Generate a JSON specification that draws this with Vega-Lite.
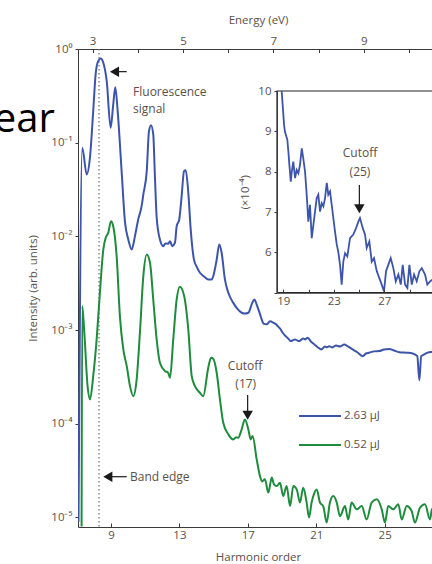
{
  "$schema": "https://vega.github.io/schema/vega-lite/v6.json",
  "width": 354,
  "height": 478,
  "autosize": {"type": "none"},
  "padding": {"left": 78, "top": 49, "right": 0, "bottom": 37},
  "background": "white",
  "config": {
    "view": {"stroke": null},
    "font": "Open Sans",
    "axis": {"grid": false, "domainColor": "#3a3a3a", "tickColor": "#3a3a3a", "labelColor": "#5a5048", "titleColor": "#5a5048", "labelFontSize": 11.5, "titleFontSize": 11.5, "titleFontWeight": "normal", "labelFont": "Open Sans", "titleFont": "Open Sans"}
  },
  "datasets": {
    "spectra": [
      {"series": "2.63 μJ", "harmonic": 7.10, "intensity": 9e-6},
      {"series": "2.63 μJ", "harmonic": 7.32, "intensity": 0.0883},
      {"series": "2.63 μJ", "harmonic": 7.58, "intensity": 0.0458},
      {"series": "2.63 μJ", "harmonic": 7.77, "intensity": 0.0695},
      {"series": "2.63 μJ", "harmonic": 7.96, "intensity": 0.217},
      {"series": "2.63 μJ", "harmonic": 8.10, "intensity": 0.535},
      {"series": "2.63 μJ", "harmonic": 8.25, "intensity": 0.741},
      {"series": "2.63 μJ", "harmonic": 8.40, "intensity": 0.792},
      {"series": "2.63 μJ", "harmonic": 8.55, "intensity": 0.713},
      {"series": "2.63 μJ", "harmonic": 8.75, "intensity": 0.453},
      {"series": "2.63 μJ", "harmonic": 8.98, "intensity": 0.144},
      {"series": "2.63 μJ", "harmonic": 9.13, "intensity": 0.256},
      {"series": "2.63 μJ", "harmonic": 9.25, "intensity": 0.391},
      {"series": "2.63 μJ", "harmonic": 9.39, "intensity": 0.217},
      {"series": "2.63 μJ", "harmonic": 9.62, "intensity": 0.0497},
      {"series": "2.63 μJ", "harmonic": 9.82, "intensity": 0.01407},
      {"series": "2.63 μJ", "harmonic": 10.01, "intensity": 0.00927},
      {"series": "2.63 μJ", "harmonic": 10.21, "intensity": 0.00724},
      {"series": "2.63 μJ", "harmonic": 10.40, "intensity": 0.01005},
      {"series": "2.63 μJ", "harmonic": 10.59, "intensity": 0.01514},
      {"series": "2.63 μJ", "harmonic": 10.79, "intensity": 0.0210},
      {"series": "2.63 μJ", "harmonic": 10.89, "intensity": 0.0280},
      {"series": "2.63 μJ", "harmonic": 11.09, "intensity": 0.0497},
      {"series": "2.63 μJ", "harmonic": 11.22, "intensity": 0.1327},
      {"series": "2.63 μJ", "harmonic": 11.34, "intensity": 0.1538},
      {"series": "2.63 μJ", "harmonic": 11.47, "intensity": 0.1225},
      {"series": "2.63 μJ", "harmonic": 11.57, "intensity": 0.0425},
      {"series": "2.63 μJ", "harmonic": 11.67, "intensity": 0.0159},
      {"series": "2.63 μJ", "harmonic": 11.86, "intensity": 0.00927},
      {"series": "2.63 μJ", "harmonic": 12.06, "intensity": 0.00786},
      {"series": "2.63 μJ", "harmonic": 12.18, "intensity": 0.0084},
      {"series": "2.63 μJ", "harmonic": 12.35, "intensity": 0.00834},
      {"series": "2.63 μJ", "harmonic": 12.45, "intensity": 0.00889},
      {"series": "2.63 μJ", "harmonic": 12.58, "intensity": 0.00786},
      {"series": "2.63 μJ", "harmonic": 12.74, "intensity": 0.00855},
      {"series": "2.63 μJ", "harmonic": 12.84, "intensity": 0.01285},
      {"series": "2.63 μJ", "harmonic": 12.99, "intensity": 0.01514},
      {"series": "2.63 μJ", "harmonic": 13.13, "intensity": 0.0269},
      {"series": "2.63 μJ", "harmonic": 13.27, "intensity": 0.0497},
      {"series": "2.63 μJ", "harmonic": 13.37, "intensity": 0.0509},
      {"series": "2.63 μJ", "harmonic": 13.52, "intensity": 0.0292},
      {"series": "2.63 μJ", "harmonic": 13.66, "intensity": 0.01186},
      {"series": "2.63 μJ", "harmonic": 13.85, "intensity": 0.00566},
      {"series": "2.63 μJ", "harmonic": 14.03, "intensity": 0.00466},
      {"series": "2.63 μJ", "harmonic": 14.20, "intensity": 0.00409},
      {"series": "2.63 μJ", "harmonic": 14.44, "intensity": 0.00373},
      {"series": "2.63 μJ", "harmonic": 14.69, "intensity": 0.00347},
      {"series": "2.63 μJ", "harmonic": 14.89, "intensity": 0.00347},
      {"series": "2.63 μJ", "harmonic": 15.02, "intensity": 0.00402},
      {"series": "2.63 μJ", "harmonic": 15.18, "intensity": 0.00566},
      {"series": "2.63 μJ", "harmonic": 15.33, "intensity": 0.0082},
      {"series": "2.63 μJ", "harmonic": 15.47, "intensity": 0.00668},
      {"series": "2.63 μJ", "harmonic": 15.66, "intensity": 0.00347},
      {"series": "2.63 μJ", "harmonic": 15.86, "intensity": 0.0025},
      {"series": "2.63 μJ", "harmonic": 16.15, "intensity": 0.00195},
      {"series": "2.63 μJ", "harmonic": 16.37, "intensity": 0.0017},
      {"series": "2.63 μJ", "harmonic": 16.64, "intensity": 0.00153},
      {"series": "2.63 μJ", "harmonic": 16.83, "intensity": 0.0015},
      {"series": "2.63 μJ", "harmonic": 17.03, "intensity": 0.00153},
      {"series": "2.63 μJ", "harmonic": 17.26, "intensity": 0.00195},
      {"series": "2.63 μJ", "harmonic": 17.38, "intensity": 0.00212},
      {"series": "2.63 μJ", "harmonic": 17.55, "intensity": 0.0018},
      {"series": "2.63 μJ", "harmonic": 17.75, "intensity": 0.00141},
      {"series": "2.63 μJ", "harmonic": 17.92, "intensity": 0.00117},
      {"series": "2.63 μJ", "harmonic": 18.10, "intensity": 0.00115},
      {"series": "2.63 μJ", "harmonic": 18.30, "intensity": 0.00124},
      {"series": "2.63 μJ", "harmonic": 18.49, "intensity": 0.0012},
      {"series": "2.63 μJ", "harmonic": 18.65, "intensity": 0.00115},
      {"series": "2.63 μJ", "harmonic": 18.75, "intensity": 0.0011},
      {"series": "2.63 μJ", "harmonic": 18.88, "intensity": 0.00104},
      {"series": "2.63 μJ", "harmonic": 19.04, "intensity": 0.000935},
      {"series": "2.63 μJ", "harmonic": 19.23, "intensity": 0.000855},
      {"series": "2.63 μJ", "harmonic": 19.38, "intensity": 0.000805},
      {"series": "2.63 μJ", "harmonic": 19.52, "intensity": 0.000762},
      {"series": "2.63 μJ", "harmonic": 19.64, "intensity": 0.00078},
      {"series": "2.63 μJ", "harmonic": 19.76, "intensity": 0.000794},
      {"series": "2.63 μJ", "harmonic": 19.88, "intensity": 0.000775},
      {"series": "2.63 μJ", "harmonic": 20.01, "intensity": 0.000762},
      {"series": "2.63 μJ", "harmonic": 20.23, "intensity": 0.000813},
      {"series": "2.63 μJ", "harmonic": 20.36, "intensity": 0.000795},
      {"series": "2.63 μJ", "harmonic": 20.50, "intensity": 0.000828},
      {"series": "2.63 μJ", "harmonic": 20.69, "intensity": 0.000755},
      {"series": "2.63 μJ", "harmonic": 20.89, "intensity": 0.000702},
      {"series": "2.63 μJ", "harmonic": 21.10, "intensity": 0.000652},
      {"series": "2.63 μJ", "harmonic": 21.30, "intensity": 0.000621},
      {"series": "2.63 μJ", "harmonic": 21.51, "intensity": 0.000668},
      {"series": "2.63 μJ", "harmonic": 21.63, "intensity": 0.000655},
      {"series": "2.63 μJ", "harmonic": 21.76, "intensity": 0.000673},
      {"series": "2.63 μJ", "harmonic": 21.92, "intensity": 0.000652},
      {"series": "2.63 μJ", "harmonic": 22.16, "intensity": 0.000685},
      {"series": "2.63 μJ", "harmonic": 22.39, "intensity": 0.000668},
      {"series": "2.63 μJ", "harmonic": 22.64, "intensity": 0.000702},
      {"series": "2.63 μJ", "harmonic": 22.86, "intensity": 0.000668},
      {"series": "2.63 μJ", "harmonic": 23.13, "intensity": 0.000621},
      {"series": "2.63 μJ", "harmonic": 23.38, "intensity": 0.000583},
      {"series": "2.63 μJ", "harmonic": 23.72, "intensity": 0.000526},
      {"series": "2.63 μJ", "harmonic": 23.91, "intensity": 0.000562},
      {"series": "2.63 μJ", "harmonic": 24.10, "intensity": 0.000573},
      {"series": "2.63 μJ", "harmonic": 24.38, "intensity": 0.000592},
      {"series": "2.63 μJ", "harmonic": 24.69, "intensity": 0.000596},
      {"series": "2.63 μJ", "harmonic": 24.96, "intensity": 0.000621},
      {"series": "2.63 μJ", "harmonic": 25.27, "intensity": 0.000628},
      {"series": "2.63 μJ", "harmonic": 25.55, "intensity": 0.000605},
      {"series": "2.63 μJ", "harmonic": 25.86, "intensity": 0.000581},
      {"series": "2.63 μJ", "harmonic": 26.29, "intensity": 0.000573},
      {"series": "2.63 μJ", "harmonic": 26.64, "intensity": 0.000562},
      {"series": "2.63 μJ", "harmonic": 26.91, "intensity": 0.000526},
      {"series": "2.63 μJ", "harmonic": 27.03, "intensity": 0.00029},
      {"series": "2.63 μJ", "harmonic": 27.14, "intensity": 0.000526},
      {"series": "2.63 μJ", "harmonic": 27.32, "intensity": 0.000549},
      {"series": "2.63 μJ", "harmonic": 27.54, "intensity": 0.000577},
      {"series": "2.63 μJ", "harmonic": 27.77, "intensity": 0.000583},
      {"series": "2.63 μJ", "harmonic": 28.10, "intensity": 0.000592},
      {"series": "0.52 μJ", "harmonic": 7.28, "intensity": 8e-6},
      {"series": "0.52 μJ", "harmonic": 7.32, "intensity": 0.0018},
      {"series": "0.52 μJ", "harmonic": 7.44, "intensity": 0.000935},
      {"series": "0.52 μJ", "harmonic": 7.63, "intensity": 0.000252},
      {"series": "0.52 μJ", "harmonic": 7.77, "intensity": 0.000182},
      {"series": "0.52 μJ", "harmonic": 7.96, "intensity": 0.000322},
      {"series": "0.52 μJ", "harmonic": 8.16, "intensity": 0.000794},
      {"series": "0.52 μJ", "harmonic": 8.35, "intensity": 0.0025},
      {"series": "0.52 μJ", "harmonic": 8.55, "intensity": 0.00724},
      {"series": "0.52 μJ", "harmonic": 8.69, "intensity": 0.00966},
      {"series": "0.52 μJ", "harmonic": 8.84, "intensity": 0.0109},
      {"series": "0.52 μJ", "harmonic": 9.00, "intensity": 0.01452},
      {"series": "0.52 μJ", "harmonic": 9.13, "intensity": 0.01285},
      {"series": "0.52 μJ", "harmonic": 9.33, "intensity": 0.00615},
      {"series": "0.52 μJ", "harmonic": 9.52, "intensity": 0.00141},
      {"series": "0.52 μJ", "harmonic": 9.72, "intensity": 0.000621},
      {"series": "0.52 μJ", "harmonic": 9.92, "intensity": 0.000412},
      {"series": "0.52 μJ", "harmonic": 10.11, "intensity": 0.000252},
      {"series": "0.52 μJ", "harmonic": 10.30, "intensity": 0.000197},
      {"series": "0.52 μJ", "harmonic": 10.50, "intensity": 0.000297},
      {"series": "0.52 μJ", "harmonic": 10.69, "intensity": 0.000935},
      {"series": "0.52 μJ", "harmonic": 10.89, "intensity": 0.00376},
      {"series": "0.52 μJ", "harmonic": 11.09, "intensity": 0.00641},
      {"series": "0.52 μJ", "harmonic": 11.28, "intensity": 0.00523},
      {"series": "0.52 μJ", "harmonic": 11.47, "intensity": 0.00212},
      {"series": "0.52 μJ", "harmonic": 11.67, "intensity": 0.000794},
      {"series": "0.52 μJ", "harmonic": 11.86, "intensity": 0.000448},
      {"series": "0.52 μJ", "harmonic": 12.16, "intensity": 0.000364},
      {"series": "0.52 μJ", "harmonic": 12.33, "intensity": 0.000353},
      {"series": "0.52 μJ", "harmonic": 12.45, "intensity": 0.00031},
      {"series": "0.52 μJ", "harmonic": 12.64, "intensity": 0.000794},
      {"series": "0.52 μJ", "harmonic": 12.84, "intensity": 0.00212},
      {"series": "0.52 μJ", "harmonic": 13.03, "intensity": 0.0029},
      {"series": "0.52 μJ", "harmonic": 13.28, "intensity": 0.0023},
      {"series": "0.52 μJ", "harmonic": 13.52, "intensity": 0.00101},
      {"series": "0.52 μJ", "harmonic": 13.72, "intensity": 0.000322},
      {"series": "0.52 μJ", "harmonic": 13.91, "intensity": 0.000252},
      {"series": "0.52 μJ", "harmonic": 14.20, "intensity": 0.000214},
      {"series": "0.52 μJ", "harmonic": 14.39, "intensity": 0.000197},
      {"series": "0.52 μJ", "harmonic": 14.69, "intensity": 0.000399},
      {"series": "0.52 μJ", "harmonic": 14.85, "intensity": 0.000506},
      {"series": "0.52 μJ", "harmonic": 14.98, "intensity": 0.000494},
      {"series": "0.52 μJ", "harmonic": 15.18, "intensity": 0.00035},
      {"series": "0.52 μJ", "harmonic": 15.37, "intensity": 0.000182},
      {"series": "0.52 μJ", "harmonic": 15.56, "intensity": 0.000103},
      {"series": "0.52 μJ", "harmonic": 15.86, "intensity": 7.7e-5},
      {"series": "0.52 μJ", "harmonic": 16.15, "intensity": 6.8e-5},
      {"series": "0.52 μJ", "harmonic": 16.31, "intensity": 7.14e-5},
      {"series": "0.52 μJ", "harmonic": 16.44, "intensity": 7.1e-5},
      {"series": "0.52 μJ", "harmonic": 16.64, "intensity": 8.7e-5},
      {"series": "0.52 μJ", "harmonic": 16.83, "intensity": 0.000111},
      {"series": "0.52 μJ", "harmonic": 17.03, "intensity": 8.7e-5},
      {"series": "0.52 μJ", "harmonic": 17.17, "intensity": 6.8e-5},
      {"series": "0.52 μJ", "harmonic": 17.28, "intensity": 7.4e-5},
      {"series": "0.52 μJ", "harmonic": 17.52, "intensity": 4.16e-5},
      {"series": "0.52 μJ", "harmonic": 17.71, "intensity": 2.76e-5},
      {"series": "0.52 μJ", "harmonic": 17.83, "intensity": 2.42e-5},
      {"series": "0.52 μJ", "harmonic": 18.00, "intensity": 2.55e-5},
      {"series": "0.52 μJ", "harmonic": 18.20, "intensity": 1.84e-5},
      {"series": "0.52 μJ", "harmonic": 18.40, "intensity": 2.66e-5},
      {"series": "0.52 μJ", "harmonic": 18.53, "intensity": 2.25e-5},
      {"series": "0.52 μJ", "harmonic": 18.69, "intensity": 2.16e-5},
      {"series": "0.52 μJ", "harmonic": 18.88, "intensity": 2.34e-5},
      {"series": "0.52 μJ", "harmonic": 19.07, "intensity": 1.69e-5},
      {"series": "0.52 μJ", "harmonic": 19.27, "intensity": 2.16e-5},
      {"series": "0.52 μJ", "harmonic": 19.47, "intensity": 1.32e-5},
      {"series": "0.52 μJ", "harmonic": 19.66, "intensity": 2.16e-5},
      {"series": "0.52 μJ", "harmonic": 19.86, "intensity": 1.99e-5},
      {"series": "0.52 μJ", "harmonic": 20.05, "intensity": 1.44e-5},
      {"series": "0.52 μJ", "harmonic": 20.24, "intensity": 2.07e-5},
      {"series": "0.52 μJ", "harmonic": 20.44, "intensity": 1.44e-5},
      {"series": "0.52 μJ", "harmonic": 20.58, "intensity": 1.0e-5},
      {"series": "0.52 μJ", "harmonic": 20.73, "intensity": 1.44e-5},
      {"series": "0.52 μJ", "harmonic": 20.83, "intensity": 1.69e-5},
      {"series": "0.52 μJ", "harmonic": 21.03, "intensity": 1.99e-5},
      {"series": "0.52 μJ", "harmonic": 21.22, "intensity": 1.44e-5},
      {"series": "0.52 μJ", "harmonic": 21.41, "intensity": 1.32e-5},
      {"series": "0.52 μJ", "harmonic": 21.61, "intensity": 8.8e-6},
      {"series": "0.52 μJ", "harmonic": 21.80, "intensity": 1.44e-5},
      {"series": "0.52 μJ", "harmonic": 22.00, "intensity": 1.69e-5},
      {"series": "0.52 μJ", "harmonic": 22.20, "intensity": 1.44e-5},
      {"series": "0.52 μJ", "harmonic": 22.39, "intensity": 1.03e-5},
      {"series": "0.52 μJ", "harmonic": 22.68, "intensity": 1.32e-5},
      {"series": "0.52 μJ", "harmonic": 22.87, "intensity": 9.5e-6},
      {"series": "0.52 μJ", "harmonic": 23.07, "intensity": 1.44e-5},
      {"series": "0.52 μJ", "harmonic": 23.37, "intensity": 1.22e-5},
      {"series": "0.52 μJ", "harmonic": 23.66, "intensity": 1.32e-5},
      {"series": "0.52 μJ", "harmonic": 23.95, "intensity": 9.5e-6},
      {"series": "0.52 μJ", "harmonic": 24.24, "intensity": 1.44e-5},
      {"series": "0.52 μJ", "harmonic": 24.54, "intensity": 1.56e-5},
      {"series": "0.52 μJ", "harmonic": 24.83, "intensity": 1.22e-5},
      {"series": "0.52 μJ", "harmonic": 25.02, "intensity": 8.8e-6},
      {"series": "0.52 μJ", "harmonic": 25.21, "intensity": 1.32e-5},
      {"series": "0.52 μJ", "harmonic": 25.51, "intensity": 1.22e-5},
      {"series": "0.52 μJ", "harmonic": 25.80, "intensity": 1.38e-5},
      {"series": "0.52 μJ", "harmonic": 26.00, "intensity": 9.5e-6},
      {"series": "0.52 μJ", "harmonic": 26.29, "intensity": 1.32e-5},
      {"series": "0.52 μJ", "harmonic": 26.58, "intensity": 1.17e-5},
      {"series": "0.52 μJ", "harmonic": 26.77, "intensity": 8.8e-6},
      {"series": "0.52 μJ", "harmonic": 27.07, "intensity": 1.27e-5},
      {"series": "0.52 μJ", "harmonic": 27.36, "intensity": 1.38e-5},
      {"series": "0.52 μJ", "harmonic": 27.65, "intensity": 9.5e-6},
      {"series": "0.52 μJ", "harmonic": 27.77, "intensity": 1.22e-5},
      {"series": "0.52 μJ", "harmonic": 28.10, "intensity": 1.38e-5}
    ],
    "inset": [
      {"harmonic": 18.87, "value": 10.0},
      {"harmonic": 18.95, "value": 9.65},
      {"harmonic": 19.06, "value": 9.16},
      {"harmonic": 19.13, "value": 8.99},
      {"harmonic": 19.32, "value": 8.79},
      {"harmonic": 19.40, "value": 8.50},
      {"harmonic": 19.48, "value": 8.17},
      {"harmonic": 19.59, "value": 7.75},
      {"harmonic": 19.67, "value": 8.00},
      {"harmonic": 19.79, "value": 8.25},
      {"harmonic": 19.93, "value": 7.84},
      {"harmonic": 20.06, "value": 8.04},
      {"harmonic": 20.19, "value": 7.96},
      {"harmonic": 20.32, "value": 8.17},
      {"harmonic": 20.46, "value": 8.58},
      {"harmonic": 20.58, "value": 8.33},
      {"harmonic": 20.72, "value": 8.00},
      {"harmonic": 20.85, "value": 7.43},
      {"harmonic": 20.98, "value": 6.76},
      {"harmonic": 21.11, "value": 7.18},
      {"harmonic": 21.25, "value": 6.35},
      {"harmonic": 21.38, "value": 6.68},
      {"harmonic": 21.51, "value": 7.01},
      {"harmonic": 21.64, "value": 7.34},
      {"harmonic": 21.77, "value": 7.43},
      {"harmonic": 21.91, "value": 7.01},
      {"harmonic": 22.04, "value": 7.22},
      {"harmonic": 22.17, "value": 7.14},
      {"harmonic": 22.30, "value": 7.34},
      {"harmonic": 22.44, "value": 7.72},
      {"harmonic": 22.56, "value": 7.43},
      {"harmonic": 22.70, "value": 7.51},
      {"harmonic": 22.83, "value": 7.18},
      {"harmonic": 22.96, "value": 6.85},
      {"harmonic": 23.09, "value": 6.52},
      {"harmonic": 23.23, "value": 6.19},
      {"harmonic": 23.35, "value": 6.02},
      {"harmonic": 23.49, "value": 5.69},
      {"harmonic": 23.62, "value": 5.20},
      {"harmonic": 23.75, "value": 5.77},
      {"harmonic": 23.89, "value": 5.98},
      {"harmonic": 24.07, "value": 5.90},
      {"harmonic": 24.28, "value": 6.35},
      {"harmonic": 24.54, "value": 6.44},
      {"harmonic": 24.76, "value": 6.60},
      {"harmonic": 24.94, "value": 6.76},
      {"harmonic": 25.07, "value": 6.85},
      {"harmonic": 25.29, "value": 6.60},
      {"harmonic": 25.47, "value": 6.44},
      {"harmonic": 25.60, "value": 6.11},
      {"harmonic": 25.81, "value": 6.27},
      {"harmonic": 26.00, "value": 5.77},
      {"harmonic": 26.18, "value": 5.86},
      {"harmonic": 26.40, "value": 5.53},
      {"harmonic": 26.60, "value": 5.36},
      {"harmonic": 26.79, "value": 5.20},
      {"harmonic": 26.97, "value": 5.03},
      {"harmonic": 27.13, "value": 5.53},
      {"harmonic": 27.31, "value": 5.69},
      {"harmonic": 27.50, "value": 5.86},
      {"harmonic": 27.71, "value": 5.61},
      {"harmonic": 27.90, "value": 5.28},
      {"harmonic": 28.11, "value": 5.45},
      {"harmonic": 28.30, "value": 5.20},
      {"harmonic": 28.45, "value": 5.69},
      {"harmonic": 28.64, "value": 5.20},
      {"harmonic": 28.82, "value": 5.12},
      {"harmonic": 28.98, "value": 5.69},
      {"harmonic": 29.17, "value": 5.20},
      {"harmonic": 29.35, "value": 5.45},
      {"harmonic": 29.56, "value": 5.28},
      {"harmonic": 29.77, "value": 5.53},
      {"harmonic": 29.96, "value": 5.61},
      {"harmonic": 30.22, "value": 5.45},
      {"harmonic": 30.40, "value": 5.20},
      {"harmonic": 30.62, "value": 5.28},
      {"harmonic": 30.77, "value": 5.32}
    ]
  },
  "layer": [
    {
      "layer": [
        {
          "data": {"values": [{"label": "ear", "harmonic": 5.72, "intensity": 0.13}]},
          "mark": {"type": "text", "align": "right", "baseline": "alphabetic", "fontSize": 40, "font": "Open Sans", "color": "#000000"},
          "encoding": {
            "x": {"field": "harmonic", "type": "quantitative", "scale": {"domain": [7.07, 27.77]}},
            "y": {"field": "intensity", "type": "quantitative", "scale": {"type": "log", "domain": [7.9e-6, 1]}},
            "text": {"field": "label"}
          }
        },
        {
          "data": {"values": [{"harmonic": 8.3}]},
          "mark": {"type": "rule", "color": "#7a7a7a", "strokeWidth": 1.3, "strokeDash": [1.5, 2.5]},
          "encoding": {
            "x": {"field": "harmonic", "type": "quantitative", "scale": {"domain": [7.07, 27.77]}}
          }
        },
        {
          "data": {"name": "spectra"},
          "mark": {"type": "line", "strokeWidth": 2, "clip": true, "interpolate": "monotone"},
          "encoding": {
            "x": {"field": "harmonic", "type": "quantitative", "scale": {"domain": [7.07, 27.77]},
              "axis": {"title": "Harmonic order", "values": [9, 11, 13, 15, 17, 19, 21, 23, 25, 27], "labelExpr": "(datum.value - 9) % 4 == 0 ? datum.label : ''", "tickSize": -4, "labelPadding": 6, "titlePadding": 11, "titleX": 180}},
            "y": {"field": "intensity", "type": "quantitative", "scale": {"type": "log", "domain": [7.9e-6, 1]},
              "axis": {"title": "Intensity (arb. units)", "values": [1e-5, 1e-4, 1e-3, 1e-2, 1e-1, 1], "labelExpr": "'10' + ['⁰','⁻¹','⁻²','⁻³','⁻⁴','⁻⁵'][round(-log(datum.value)/LN10)]", "tickSize": 3, "labelPadding": 3, "titlePadding": 12}},
            "color": {"field": "series", "type": "nominal", "scale": {"domain": ["2.63 μJ", "0.52 μJ"], "range": ["#3c55aa", "#1e8c3c"]},
              "legend": {"title": null, "orient": "none", "legendX": 220, "legendY": 345, "symbolType": "stroke", "symbolSize": 1764, "symbolStrokeWidth": 2, "labelFontSize": 11.5, "labelColor": "#5a5048", "labelOffset": 2, "rowPadding": 1, "padding": 0}}
          }
        },
        {
          "data": {"values": [
            {"label": "Fluorescence", "harmonic": 10.29, "intensity": 0.348},
            {"label": "signal", "harmonic": 10.29, "intensity": 0.229},
            {"label": "Band edge", "harmonic": 10.11, "intensity": 2.68e-5}
          ]},
          "mark": {"type": "text", "align": "left", "baseline": "middle", "fontSize": 12, "color": "#5a5048"},
          "encoding": {
            "x": {"field": "harmonic", "type": "quantitative", "scale": {"domain": [7.07, 27.77]}},
            "y": {"field": "intensity", "type": "quantitative", "scale": {"type": "log", "domain": [7.9e-6, 1]}},
            "text": {"field": "label"}
          }
        },
        {
          "data": {"values": [
            {"label": "Cutoff", "harmonic": 16.84, "intensity": 4.09e-4},
            {"label": "(17)", "harmonic": 16.88, "intensity": 2.66e-4}
          ]},
          "mark": {"type": "text", "align": "center", "baseline": "middle", "fontSize": 12, "color": "#5a5048"},
          "encoding": {
            "x": {"field": "harmonic", "type": "quantitative", "scale": {"domain": [7.07, 27.77]}},
            "y": {"field": "intensity", "type": "quantitative", "scale": {"type": "log", "domain": [7.9e-6, 1]}},
            "text": {"field": "label"}
          }
        },
        {
          "data": {"values": [
            {"tail": 9.92, "head": 9.204, "intensity": 0.573},
            {"tail": 9.92, "head": 8.813, "intensity": 2.72e-5}
          ]},
          "layer": [
            {"mark": {"type": "rule", "color": "#1a1a1a", "strokeWidth": 1.2},
              "encoding": {
                "x": {"field": "tail", "type": "quantitative", "scale": {"domain": [7.07, 27.77]}},
                "x2": {"field": "head"},
                "y": {"field": "intensity", "type": "quantitative", "scale": {"type": "log", "domain": [7.9e-6, 1]}}
              }},
            {"mark": {"type": "point", "shape": "triangle-left", "filled": true, "color": "#1a1a1a", "size": 110, "opacity": 1},
              "encoding": {
                "x": {"field": "head", "type": "quantitative", "scale": {"domain": [7.07, 27.77]}},
                "y": {"field": "intensity", "type": "quantitative", "scale": {"type": "log", "domain": [7.9e-6, 1]}}
              }}
          ]
        },
        {
          "data": {"values": [{"harmonic": 16.99, "top": 2.03e-4, "head": 1.23e-4}]},
          "layer": [
            {"mark": {"type": "rule", "color": "#1a1a1a", "strokeWidth": 1.2},
              "encoding": {
                "x": {"field": "harmonic", "type": "quantitative", "scale": {"domain": [7.07, 27.77]}},
                "y": {"field": "top", "type": "quantitative", "scale": {"type": "log", "domain": [7.9e-6, 1]}},
                "y2": {"field": "head"}
              }},
            {"mark": {"type": "point", "shape": "triangle-down", "filled": true, "color": "#1a1a1a", "size": 110, "opacity": 1},
              "encoding": {
                "x": {"field": "harmonic", "type": "quantitative", "scale": {"domain": [7.07, 27.77]}},
                "y": {"field": "head", "type": "quantitative", "scale": {"type": "log", "domain": [7.9e-6, 1]}}
              }}
          ]
        }
      ]
    },
    {
      "data": {"values": [{"energy": 3}]},
      "mark": {"type": "point", "opacity": 0},
      "encoding": {
        "x": {"field": "energy", "type": "quantitative", "scale": {"domain": [2.676, 10.511]},
          "axis": {"orient": "top", "title": "Energy (eV)", "values": [3, 4, 5, 6, 7, 8, 9, 10], "labelExpr": "datum.value % 2 == 1 ? datum.label : ''", "tickSize": -3.5, "labelPadding": 6, "titlePadding": 10, "titleX": 180}}
      }
    },
    {
      "layer": [
        {
          "data": {"values": [{"x1": 18.5, "x2": 31.5, "v1": 5, "v2": 10}]},
          "mark": {"type": "rect", "fill": "white", "stroke": "#222222", "strokeWidth": 1.2},
          "encoding": {
            "x": {"field": "x1", "type": "quantitative", "scale": {"domain": [18.5, 30.77], "range": [199, 354]}},
            "x2": {"field": "x2"},
            "y": {"field": "v1", "type": "quantitative", "scale": {"domain": [5, 10], "range": [243.7, 42]}},
            "y2": {"field": "v2"}
          }
        },
        {
          "data": {"name": "inset"},
          "mark": {"type": "line", "color": "#3c55aa", "strokeWidth": 1.8},
          "encoding": {
            "x": {"field": "harmonic", "type": "quantitative", "scale": {"domain": [18.5, 30.77], "range": [199, 354]},
              "axis": {"orient": "bottom", "offset": -234.3, "title": null, "values": [19, 21, 23, 25, 27, 29], "labelExpr": "(datum.value - 19) % 4 == 0 ? datum.label : ''", "tickSize": -3.5, "labelPadding": 6, "zindex": 1}},
            "y": {"field": "value", "type": "quantitative", "scale": {"domain": [5, 10], "range": [243.7, 42]},
              "axis": {"orient": "left", "offset": -199, "title": "(×10⁻⁴)", "values": [5, 6, 7, 8, 9, 10], "format": "d", "labelExpr": "datum.value == 5 ? '' : datum.label", "tickSize": 3, "labelPadding": 3, "titleX": -27, "zindex": 1}}
          }
        },
        {
          "data": {"values": [
            {"label": "Cutoff", "harmonic": 25.07, "value": 8.46},
            {"label": "(25)", "harmonic": 25.07, "value": 8.0}
          ]},
          "mark": {"type": "text", "align": "center", "baseline": "middle", "fontSize": 12, "color": "#5a5048"},
          "encoding": {
            "x": {"field": "harmonic", "type": "quantitative", "scale": {"domain": [18.5, 30.77], "range": [199, 354]}},
            "y": {"field": "value", "type": "quantitative", "scale": {"domain": [5, 10], "range": [243.7, 42]}},
            "text": {"field": "label"}
          }
        },
        {
          "data": {"values": [{"harmonic": 25.02, "top": 7.67, "head": 7.08}]},
          "layer": [
            {"mark": {"type": "rule", "color": "#1a1a1a", "strokeWidth": 1.2},
              "encoding": {
                "x": {"field": "harmonic", "type": "quantitative", "scale": {"domain": [18.5, 30.77], "range": [199, 354]}},
                "y": {"field": "top", "type": "quantitative", "scale": {"domain": [5, 10], "range": [243.7, 42]}},
                "y2": {"field": "head"}
              }},
            {"mark": {"type": "point", "shape": "triangle-down", "filled": true, "color": "#1a1a1a", "size": 110, "opacity": 1},
              "encoding": {
                "x": {"field": "harmonic", "type": "quantitative", "scale": {"domain": [18.5, 30.77], "range": [199, 354]}},
                "y": {"field": "head", "type": "quantitative", "scale": {"domain": [5, 10], "range": [243.7, 42]}}
              }}
          ]
        }
      ]
    }
  ],
  "resolve": {"scale": {"x": "independent", "y": "independent"}, "axis": {"x": "independent", "y": "independent"}}
}
